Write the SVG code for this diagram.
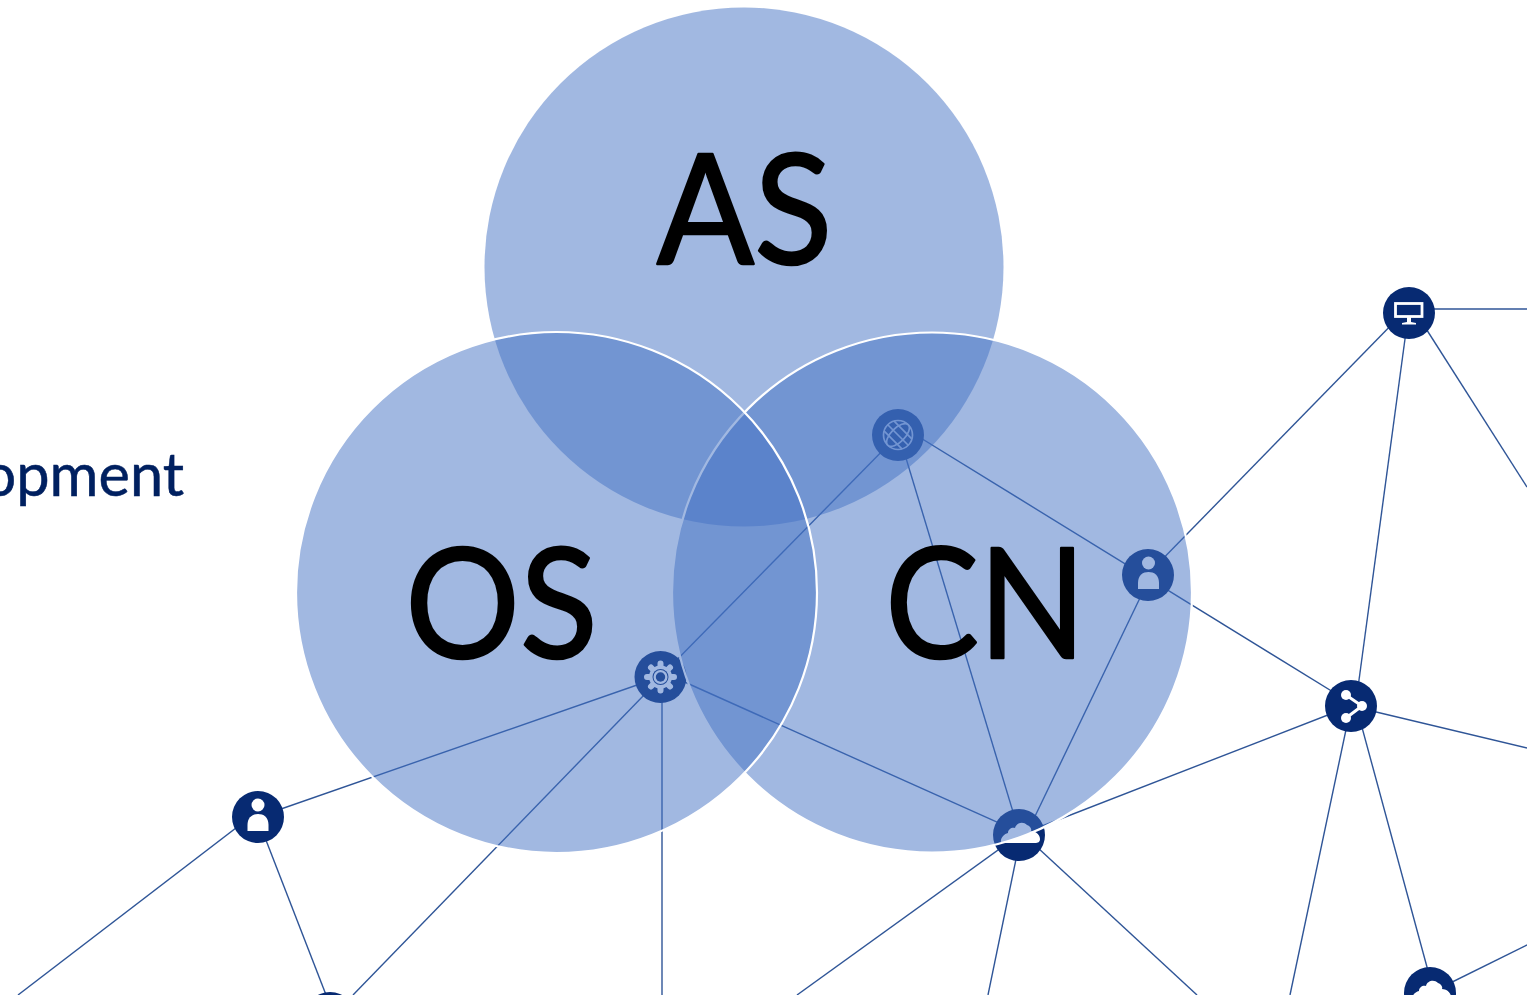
<svg xmlns="http://www.w3.org/2000/svg" width="1527" height="995" viewBox="0 0 1527 995">
<style>
.l{stroke:#2F5597;stroke-width:1.4;fill:none}
.n{fill:#072A72}
.v{fill:#4472C4;fill-opacity:.5}
.w{stroke:#fff;stroke-width:2.2}
.t{font-family:Lato,"Liberation Sans",sans-serif;font-size:154px;fill:#000;stroke:#000;stroke-width:2.4;stroke-linejoin:round;text-anchor:middle}
.g{fill:none;stroke:#fff}
.f{fill:#fff}
</style>
<defs>
<g id="person"><circle cx="0" cy="-12" r="6.500" class="f"/><path class="f" d="M-10.500 14V8C-10.500 0-5.500-3 0-3S10.500 0 10.500 8V14Z"/></g>
<g id="cloud"><path class="f" d="M-18 9C-19 4-15 0-11-1C-11-5-7-7-4-6C-3-11 4-13 8-9C11-8 13-5 12-3C17-3 21 1 21 5C21 8 19 9 16 9Z"/></g>
</defs>
<g id="connectors" class="l">
<path d="M1409 309H1527"/>
<path d="M1409 302L1527 487"/>
<path d="M1408.500 313L1355.500 706"/>
<path d="M1403 313L1147 575"/>
<path d="M898 424L1351 703"/>
<path d="M898 435L660 677"/>
<path d="M899 435L1020 835"/>
<path d="M1151 575L1026 835"/>
<path d="M660 671L1019 832"/>
<path d="M660 677L258 817"/>
<path d="M661.500 677L353 995"/>
<path d="M662 677V995"/>
<path d="M257 817L335 1018"/>
<path d="M258 811L18 995"/>
<path d="M1019 835L1351 706"/>
<path d="M1019 835L797 995"/>
<path d="M1021 835L988 995"/>
<path d="M1024 835L1197 995"/>
<path d="M1351 706L1290 995"/>
<path d="M1360 720L1430.500 980"/>
<path d="M1351 706L1527 748"/>
<path d="M1430 993L1527 945"/>
</g>
<g id="node-desktop"><circle class="n" cx="1409" cy="313" r="26"/>
<rect x="1395.500" y="303.500" width="26.500" height="13" class="g" stroke-width="2.800"/><path class="f" d="M1407 317h4v5l5 1v1.500h-14v-1.500l5-1z"/></g>
<g id="node-user-right"><circle class="n" cx="1148" cy="575" r="26"/><use href="#person" x="1148.500" y="575"/></g>
<g id="node-share"><circle class="n" cx="1351" cy="706" r="26"/>
<path class="g" stroke-width="3" d="M1346 695L1362 706L1346 718"/>
<circle class="f" cx="1346" cy="695" r="5"/><circle class="f" cx="1362" cy="706" r="5"/><circle class="f" cx="1346" cy="718" r="5"/></g>
<g id="node-cloud"><circle class="n" cx="1019" cy="835" r="26"/><use href="#cloud" x="1019" y="834"/></g>
<g id="node-globe"><circle class="n" cx="898" cy="435" r="26"/>
<g class="g" stroke-width="1.700" transform="rotate(45 898 435)"><circle cx="898" cy="435" r="14.500"/><ellipse cx="898" cy="435" rx="7" ry="14.500"/><path d="M883.500 435H912.500M885.500 428H910.500M885.500 442H910.500"/></g></g>
<g id="node-gear"><circle class="n" cx="660.500" cy="677" r="26"/>
<g class="g" stroke-width="6" stroke-linecap="round" transform="translate(.5 0)"><path d="M660 663.500V690.500M646.500 677H673.500M650.500 667.500L669.500 686.500M669.500 667.500L650.500 686.500"/></g>
<circle class="f" cx="660.500" cy="677" r="11.500"/>
<circle cx="660.500" cy="677" r="8" fill="#072A72"/>
<circle class="f" cx="660.500" cy="677" r="7"/>
<circle cx="660.500" cy="677" r="4.700" fill="#072A72"/></g>
<g id="node-user-left"><circle class="n" cx="258" cy="817" r="26"/><use href="#person" x="258" y="817"/></g>
<g id="node-bottom-left"><circle class="n" cx="330" cy="1018" r="26"/></g>
<g id="node-cloud-bottom"><circle class="n" cx="1430" cy="993" r="26"/><use href="#cloud" x="1430" y="992"/></g>
<g id="venn">
<circle class="v" cx="744" cy="267" r="259.500"/>
<circle class="v w" cx="932" cy="592.500" r="260"/>
<circle class="v w" cx="556.500" cy="592.500" r="260.500"/>
</g>
<g id="labels">
<text class="t" transform="translate(744.500 263.500) scale(.935 1)">AS</text>
<text class="t" transform="translate(501.500 658) scale(.93 1)">OS</text>
<text class="t" transform="translate(985.500 657.500) scale(.91 1)">CN</text>
<text x="184" y="496" text-anchor="end" style="font-family:Lato,'Liberation Sans',sans-serif;font-size:59.500px;fill:#002060;stroke:#002060;stroke-width:.5">opment</text>
</g>
</svg>
